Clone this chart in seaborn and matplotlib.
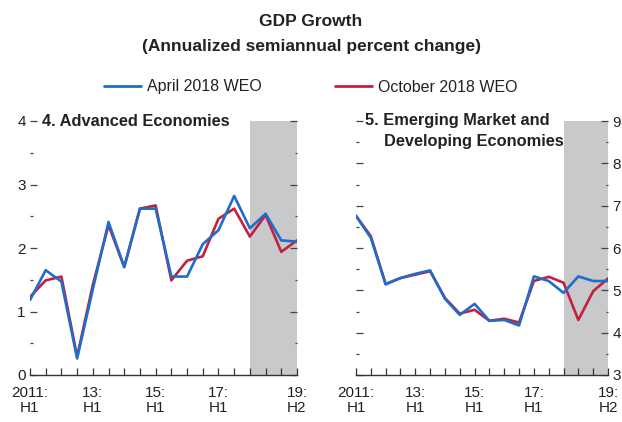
import matplotlib
matplotlib.use("Agg")
import matplotlib.pyplot as plt
from matplotlib.lines import Line2D
from matplotlib.ticker import MultipleLocator, FixedLocator
import seaborn as sns
import pandas as pd
import numpy as np

# ---- data ----
periods = [f"{y}:H{h}" for y in range(2011, 2020) for h in (1, 2)]
x_labels = {0: "2011:\nH1", 4: "13:\nH1", 8: "15:\nH1", 12: "17:\nH1", 17: "19:\nH2"}

ae_april = [1.18, 1.65, 1.47, 0.26, 1.35, 2.41, 1.70, 2.62, 2.62, 1.55,
            1.55, 2.06, 2.28, 2.82, 2.31, 2.54, 2.12, 2.10]
ae_october = [1.23, 1.49, 1.55, 0.29, 1.42, 2.36, 1.70, 2.62, 2.67, 1.49,
              1.80, 1.87, 2.46, 2.62, 2.18, 2.52, 1.94, 2.12]
em_april = [6.76, 6.24, 5.14, 5.29, 5.39, 5.47, 4.80, 4.42, 4.68, 4.28,
            4.30, 4.17, 5.33, 5.22, 4.94, 5.33, 5.22, 5.22]
em_october = [6.76, 6.28, 5.15, 5.29, 5.37, 5.45, 4.82, 4.45, 4.54, 4.28,
              4.33, 4.24, 5.22, 5.32, 5.18, 4.30, 4.98, 5.28]

series_names = ["October 2018 WEO", "April 2018 WEO"]
colors = {"April 2018 WEO": "#1f6cc9", "October 2018 WEO": "#c41f3e"}
shade_start, shade_end = 14, 17


def long_df(april, october):
    idx = np.arange(len(periods))
    return pd.concat([
        pd.DataFrame({"idx": idx, "value": october, "vintage": "October 2018 WEO"}),
        pd.DataFrame({"idx": idx, "value": april, "vintage": "April 2018 WEO"}),
    ], ignore_index=True)


sns.set_style("white")
plt.rcParams["font.family"] = ["Liberation Sans", "DejaVu Sans"]
FS = 11

fig = plt.figure(figsize=(6.22, 4.22), dpi=100)
ax1 = fig.add_axes([30 / 622, 47 / 422, 267 / 622, 254 / 422])
ax2 = fig.add_axes([356 / 622, 47 / 422, 252 / 622, 254 / 422])


def style(ax, df, ylim, label_side):
    ax.axvspan(shade_start, shade_end, color="#c8c9cb", lw=0, zorder=0)
    sns.lineplot(data=df, x="idx", y="value", hue="vintage", hue_order=series_names,
                 palette=colors, lw=1.9, legend=False, ax=ax, zorder=3)
    ax.set_xlim(0, len(periods) - 1)
    ax.set_ylim(*ylim)
    ax.set_xlabel("")
    ax.set_ylabel("")
    for s in ("left", "right", "top"):
        ax.spines[s].set_visible(False)
    ax.spines["bottom"].set_color("#333333")
    ax.spines["bottom"].set_linewidth(1.0)
    ax.xaxis.set_major_locator(FixedLocator(list(x_labels.keys())))
    ax.xaxis.set_minor_locator(MultipleLocator(1))
    ax.set_xticklabels(list(x_labels.values()), fontsize=FS, color="#222222",
                       linespacing=1.1)
    ax.tick_params(axis="x", which="both", direction="in", length=5, width=0.9,
                   color="#333333", pad=8, bottom=True)
    ax.yaxis.set_major_locator(MultipleLocator(1))
    ax.yaxis.set_minor_locator(MultipleLocator(0.5))
    ax.tick_params(axis="y", which="major", direction="in", length=5, width=0.9,
                   color="#444444", left=True, right=True,
                   labelleft=(label_side == "left"), labelright=(label_side == "right"),
                   labelsize=FS, labelcolor="#222222", pad=3)
    ax.tick_params(axis="y", which="minor", direction="in", length=1.8, width=0.9,
                   color="#444444", left=True, right=True)
    ax.grid(False)


style(ax1, long_df(ae_april, ae_october), (0, 4), "left")
style(ax2, long_df(em_april, em_october), (3, 9), "right")

PT = 11.8
ax1.text(0.045, 1.0, "4. Advanced Economies", transform=ax1.transAxes,
         fontsize=PT, fontweight="bold", va="center", ha="left", color="#222222")
ax2.text(0.037, 1.0, "5. Emerging Market and", transform=ax2.transAxes,
         fontsize=PT, fontweight="bold", va="center", ha="left", color="#222222")
ax2.text(0.112, 0.92, "Developing Economies", transform=ax2.transAxes,
         fontsize=PT, fontweight="bold", va="center", ha="left", color="#222222")

fig.text(0.5, 1 - 21 / 422, "GDP Growth", ha="center", va="center",
         fontsize=12.5, fontweight="bold", color="#222222")
fig.text(0.5, 1 - 46 / 422, "(Annualized semiannual percent change)", ha="center",
         va="center", fontsize=12.5, fontweight="bold", color="#222222")

handles = [Line2D([], [], color=colors["April 2018 WEO"], lw=2),
           Line2D([], [], color=colors["October 2018 WEO"], lw=2)]
fig.legend(handles, ["April 2018 WEO", "October 2018 WEO"], loc="center",
           bbox_to_anchor=(0.5, 1 - 87 / 422), ncol=2, frameon=False,
           fontsize=11.5, handlelength=2.3, handletextpad=0.4, columnspacing=4.6,
           labelcolor="#222222")

fig.savefig("out.png", dpi=100)
